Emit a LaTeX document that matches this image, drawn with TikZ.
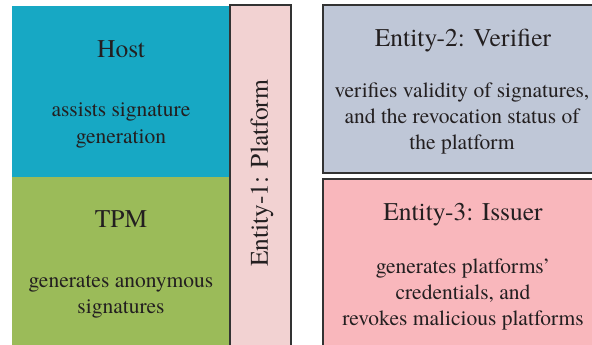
\documentclass[tikz,border=0pt]{standalone}
\usepackage{fontspec}
\setmainfont{TeX Gyre Termes}
\definecolor{hostc}{HTML}{17A8C4}
\definecolor{tpmc}{HTML}{9BBB59}
\definecolor{platc}{HTML}{F2D2D2}
\definecolor{verc}{HTML}{BFC7D7}
\definecolor{issc}{HTML}{F9B7BC}
\definecolor{txtc}{HTML}{231F20}
\definecolor{edgec}{HTML}{333333}
\tikzset{
  title/.style={anchor=base, inner sep=0pt, text=txtc, font=\fontsize{25.5}{30}\selectfont},
  body/.style={anchor=base, inner sep=0pt, text=txtc, font=\fontsize{21.5}{26}\selectfont},
  framed/.style={draw=edgec, line width=1.2pt}
}
\begin{document}
\begin{tikzpicture}[x=1pt,y=1pt]
\useasboundingbox (0,0) rectangle (592,-345);
\clip (0,0) rectangle (592,-345);
% Host
\fill[hostc] (12,-6) rectangle (230,-177);
\node[title] (hostT) at (121,-58) {Host};
\node[body] (hostB1) at (121,-117) {assists signature};
\node[body] (hostB2) at (121,-143) {generation};
% TPM
\fill[tpmc] (12,-177) rectangle (230,-350);
\node[title] (tpmT) at (121,-227) {TPM};
\node[body] (tpmB1) at (121,-287) {generates anonymous};
\node[body] (tpmB2) at (121,-313) {signatures};
% Platform
\filldraw[fill=platc, framed] (230,-5) rectangle (291,-350);
\node[title, anchor=center, rotate=90] (platT) at (262,-173) {Entity-1: Platform};
% Verifier
\filldraw[fill=verc, framed] (323,-5) rectangle (604,-173);
\node[title] (verT) at (463,-47) {Entity-2: Verifier};
\node[body] (verB1) at (462,-97) {verifies validity of signatures,};
\node[body] (verB2) at (462,-123) {and the revocation status of};
\node[body] (verB3) at (462,-149) {the platform};
% Issuer
\filldraw[fill=issc, framed] (323,-179) rectangle (604,-350);
\node[title] (issT) at (463,-220) {Entity-3: Issuer};
\node[body] (issB1) at (463,-273) {generates platforms’};
\node[body] (issB2) at (463,-299) {credentials, and};
\node[body] (issB3) at (463,-325) {revokes malicious platforms};
\end{tikzpicture}
\end{document}
